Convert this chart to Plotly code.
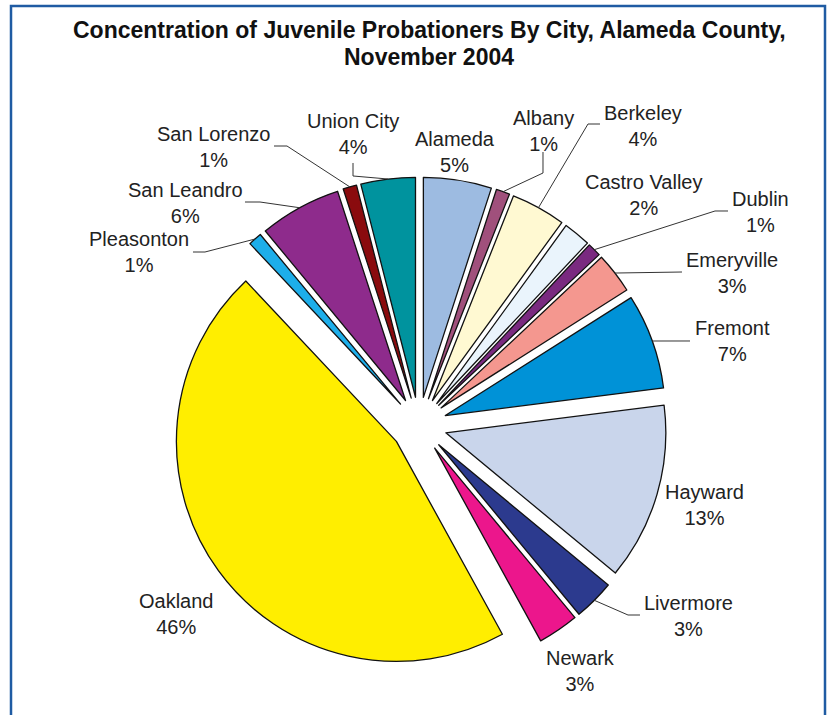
import math
import plotly.graph_objects as go

# Cities (clockwise from 12 o'clock) and their share of juvenile probationers, %
cities = ["Alameda", "Albany", "Berkeley", "Castro Valley", "Dublin", "Emeryville",
          "Fremont", "Hayward", "Livermore", "Newark", "Oakland", "Pleasonton",
          "San Leandro", "San Lorenzo", "Union City"]
shares = [5, 1, 4, 2, 1, 3, 7, 13, 3, 3, 46, 1, 6, 1, 4]
colors = ["#9DBBE1", "#A0507C", "#FFF9D2", "#EAF4FC", "#7A2A80", "#F4978F",
          "#0092D7", "#C9D5EB", "#2C3A8E", "#EC168C", "#FFEE00", "#1DAEEA",
          "#8E2B8C", "#8A0B0E", "#00939E"]
title_lines = ["Concentration of Juvenile Probationers By City, Alameda County,",
               "November 2004"]

W, H = 832, 715
CX, CY = 419, 425          # pie centre, px
R = 220                    # pie radius, px
PULL = 0.127               # explode distance as fraction of radius

# label block centres (px) and elbow points of the leader lines (px)
label_pos = {
    "Alameda": (455, 152), "Albany": (543, 131), "Berkeley": (643, 126),
    "Castro Valley": (643, 195), "Dublin": (760, 212), "Emeryville": (732, 273),
    "Fremont": (732, 341), "Hayward": (704, 505), "Livermore": (688, 616),
    "Newark": (580, 671), "Oakland": (176, 614), "Pleasonton": (139, 252),
    "San Leandro": (185, 203), "San Lorenzo": (214, 147), "Union City": (353, 134),
}
leaders = {
    "Albany": [(543, 152), (543, 173)],
    "Berkeley": [(600, 124), (588, 124)],
    "Dublin": [(728, 211), (715, 211)],
    "Emeryville": [(682, 272)],
    "Fremont": [(690, 341)],
    "Livermore": [(640, 615), (628, 615)],
    "Pleasonton": [(193, 252), (205, 252)],
    "San Leandro": [(245, 202), (260, 202)],
    "San Lorenzo": [(274, 146), (287, 146)],
    "Union City": [(353, 163), (353, 176)],
}

FONT = "Liberation Sans, Arial, sans-serif"


def px(x, y):
    return x / W, 1 - y / H


half = R * (1 + PULL)
fig = go.Figure(go.Pie(
    labels=cities, values=shares, sort=False, direction="clockwise", rotation=0,
    marker=dict(colors=colors, line=dict(color="#111111", width=1.3)),
    pull=[PULL] * len(cities), textinfo="none", showlegend=False,
    domain=dict(x=[(CX - half) / W, (CX + half) / W],
                y=[1 - (CY + half) / H, 1 - (CY - half) / H]),
))

# slice outer-arc point on each bisector, where the leader line attaches
total = sum(shares)
arc_pt = {}
cum = 0
for name, v in zip(cities, shares):
    a = 2 * math.pi * (cum + v / 2) / total
    cum += v
    d = R * (1 + PULL)
    arc_pt[name] = (CX + d * math.sin(a), CY - d * math.cos(a))

shapes = []
for name, pts in leaders.items():
    path_pts = pts + [arc_pt[name]]
    p = [px(*q) for q in path_pts]
    path = "M " + " L ".join(f"{x:.5f},{y:.5f}" for x, y in p)
    shapes.append(dict(type="path", path=path, xref="paper", yref="paper",
                       line=dict(color="#333333", width=1)))

# blue frame
shapes.append(dict(type="rect", xref="paper", yref="paper",
                   x0=11 / W, x1=825 / W, y0=-0.05, y1=1 - 6 / H,
                   line=dict(color="#1F5BA3", width=2.5)))

annotations = []
for name, v in zip(cities, shares):
    x, y = label_pos[name]
    ax, ay = px(x, y)
    annotations.append(dict(x=ax, y=ay, xref="paper", yref="paper",
                            text=f"{name}<br>{v}%", showarrow=False,
                            xanchor="center", yanchor="middle",
                            font=dict(family=FONT, size=20, color="#222222")))

# two-line bold heading
for line, ty in zip(title_lines, (30, 57)):
    tx, tyy = px(429, ty)
    annotations.append(dict(x=tx, y=tyy, xref="paper", yref="paper",
                            text=f"<b>{line}</b>", showarrow=False,
                            xanchor="center", yanchor="middle",
                            font=dict(family=FONT, size=23, color="#111111")))

fig.update_layout(
    width=W, height=H, margin=dict(l=0, r=0, t=0, b=0),
    paper_bgcolor="white", plot_bgcolor="white",
    shapes=shapes, annotations=annotations,
)

fig.write_html("out.html")
